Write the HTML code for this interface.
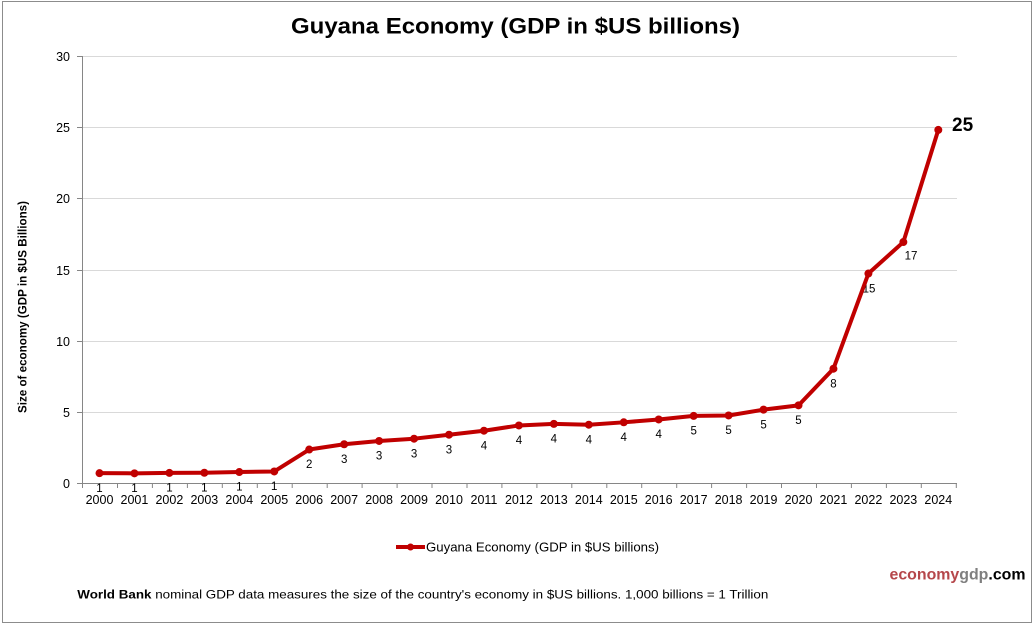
<!DOCTYPE html>
<html>
<head>
<meta charset="utf-8">
<style>
html,body{margin:0;padding:0;background:#fff;}
svg{display:block;}
text{font-family:"Liberation Sans",Arial,sans-serif;}
</style>
</head>
<body>
<svg width="1034" height="624" viewBox="0 0 1034 624" xmlns="http://www.w3.org/2000/svg">
<rect x="0" y="0" width="1034" height="624" fill="#fff"/>
<rect x="2.5" y="1.5" width="1029" height="621" fill="none" stroke="#8c8c8c" stroke-width="1"/>

<!-- Title -->
<text x="291" y="33.5" font-size="22" font-weight="bold" fill="#000" textLength="449" lengthAdjust="spacingAndGlyphs">Guyana Economy (GDP in $US billions)</text>

<!-- Gridlines -->
<g stroke="#d9d9d9" stroke-width="1">
<line x1="82" y1="412.5" x2="957" y2="412.5"/>
<line x1="82" y1="341.5" x2="957" y2="341.5"/>
<line x1="82" y1="270.5" x2="957" y2="270.5"/>
<line x1="82" y1="198.5" x2="957" y2="198.5"/>
<line x1="82" y1="127.5" x2="957" y2="127.5"/>
<line x1="82" y1="56.5" x2="957" y2="56.5"/>
</g>

<!-- Axes -->
<g stroke="#868686" stroke-width="1">
<line x1="82.5" y1="56" x2="82.5" y2="484"/>
<line x1="82" y1="483.5" x2="957" y2="483.5"/>
<line x1="77" y1="483.5" x2="82" y2="483.5"/>
<line x1="77" y1="412.5" x2="82" y2="412.5"/>
<line x1="77" y1="341.5" x2="82" y2="341.5"/>
<line x1="77" y1="270.5" x2="82" y2="270.5"/>
<line x1="77" y1="198.5" x2="82" y2="198.5"/>
<line x1="77" y1="127.5" x2="82" y2="127.5"/>
<line x1="77" y1="56.5" x2="82" y2="56.5"/>
<line x1="82.5" y1="483" x2="82.5" y2="488"/>
<line x1="117.5" y1="483" x2="117.5" y2="488"/>
<line x1="152.4" y1="483" x2="152.4" y2="488"/>
<line x1="187.4" y1="483" x2="187.4" y2="488"/>
<line x1="222.3" y1="483" x2="222.3" y2="488"/>
<line x1="257.3" y1="483" x2="257.3" y2="488"/>
<line x1="292.2" y1="483" x2="292.2" y2="488"/>
<line x1="327.2" y1="483" x2="327.2" y2="488"/>
<line x1="362.1" y1="483" x2="362.1" y2="488"/>
<line x1="397.1" y1="483" x2="397.1" y2="488"/>
<line x1="432" y1="483" x2="432" y2="488"/>
<line x1="467" y1="483" x2="467" y2="488"/>
<line x1="501.9" y1="483" x2="501.9" y2="488"/>
<line x1="536.9" y1="483" x2="536.9" y2="488"/>
<line x1="571.8" y1="483" x2="571.8" y2="488"/>
<line x1="606.8" y1="483" x2="606.8" y2="488"/>
<line x1="641.7" y1="483" x2="641.7" y2="488"/>
<line x1="676.7" y1="483" x2="676.7" y2="488"/>
<line x1="711.6" y1="483" x2="711.6" y2="488"/>
<line x1="746.6" y1="483" x2="746.6" y2="488"/>
<line x1="781.5" y1="483" x2="781.5" y2="488"/>
<line x1="816.5" y1="483" x2="816.5" y2="488"/>
<line x1="851.4" y1="483" x2="851.4" y2="488"/>
<line x1="886.4" y1="483" x2="886.4" y2="488"/>
<line x1="921.3" y1="483" x2="921.3" y2="488"/>
<line x1="956.3" y1="483" x2="956.3" y2="488"/>
</g>

<!-- Y tick labels -->
<g font-size="12.5" fill="#000" text-anchor="end">
<text x="70" y="488">0</text>
<text x="70" y="417">5</text>
<text x="70" y="346">10</text>
<text x="70" y="275">15</text>
<text x="70" y="203">20</text>
<text x="70" y="132">25</text>
<text x="70" y="61">30</text>
</g>

<!-- Y axis title -->
<text transform="translate(26.5,307) rotate(-90)" text-anchor="middle" font-size="11.6" font-weight="bold" fill="#000" textLength="212" lengthAdjust="spacingAndGlyphs">Size of economy (GDP in $US Billions)</text>

<!-- X labels -->
<g font-size="12.5" fill="#000" text-anchor="middle">
<text x="99.5" y="504">2000</text>
<text x="134.45" y="504">2001</text>
<text x="169.4" y="504">2002</text>
<text x="204.35" y="504">2003</text>
<text x="239.3" y="504">2004</text>
<text x="274.25" y="504">2005</text>
<text x="309.2" y="504">2006</text>
<text x="344.15" y="504">2007</text>
<text x="379.1" y="504">2008</text>
<text x="414.05" y="504">2009</text>
<text x="449" y="504">2010</text>
<text x="483.95" y="504">2011</text>
<text x="518.9" y="504">2012</text>
<text x="553.85" y="504">2013</text>
<text x="588.8" y="504">2014</text>
<text x="623.75" y="504">2015</text>
<text x="658.7" y="504">2016</text>
<text x="693.65" y="504">2017</text>
<text x="728.6" y="504">2018</text>
<text x="763.55" y="504">2019</text>
<text x="798.5" y="504">2020</text>
<text x="833.45" y="504">2021</text>
<text x="868.4" y="504">2022</text>
<text x="903.35" y="504">2023</text>
<text x="938.3" y="504">2024</text>
</g>

<!-- Data labels -->
<g font-size="11.5" fill="#000" text-anchor="middle">
<text x="99.5" y="491.9">1</text>
<text x="134.45" y="492">1</text>
<text x="169.4" y="491.6">1</text>
<text x="204.35" y="491.5">1</text>
<text x="239.3" y="490.7">1</text>
<text x="274.25" y="490.2">1</text>
<text x="309.2" y="468.2">2</text>
<text x="344.15" y="463">3</text>
<text x="379.1" y="459.7">3</text>
<text x="414.05" y="457.4">3</text>
<text x="449" y="453.4">3</text>
<text x="483.95" y="449.4">4</text>
<text x="518.9" y="444.2">4</text>
<text x="553.85" y="442.6">4</text>
<text x="588.8" y="443.4">4</text>
<text x="623.75" y="441">4</text>
<text x="658.7" y="438.2">4</text>
<text x="693.65" y="434.6">5</text>
<text x="728.6" y="434.2">5</text>
<text x="763.55" y="428.3">5</text>
<text x="798.5" y="424">5</text>
<text x="833.45" y="387.4">8</text>
<text x="869" y="292.3">15</text>
<text x="911" y="259.5">17</text>
</g>
<text x="952" y="131" font-size="19" font-weight="bold" fill="#000">25</text>

<!-- Series -->
<polyline fill="none" stroke="#c00000" stroke-width="4" stroke-linejoin="round" stroke-linecap="round"
points="99.5,473.18 134.45,473.33 169.4,472.9 204.35,472.76 239.3,472.04 274.25,471.47 309.2,449.53 344.15,444.26 379.1,440.98 414.05,438.7 449,434.71 483.95,430.72 518.9,425.45 553.85,423.88 588.8,424.73 623.75,422.31 658.7,419.46 693.65,415.9 728.6,415.47 763.55,409.63 798.5,405.35 833.45,368.73 868.4,273.54 903.35,242.05 938.3,129.9"/>
<g fill="#c00000">
<circle cx="99.5" cy="473.18" r="4"/>
<circle cx="134.45" cy="473.33" r="4"/>
<circle cx="169.4" cy="472.9" r="4"/>
<circle cx="204.35" cy="472.76" r="4"/>
<circle cx="239.3" cy="472.04" r="4"/>
<circle cx="274.25" cy="471.47" r="4"/>
<circle cx="309.2" cy="449.53" r="4"/>
<circle cx="344.15" cy="444.26" r="4"/>
<circle cx="379.1" cy="440.98" r="4"/>
<circle cx="414.05" cy="438.7" r="4"/>
<circle cx="449" cy="434.71" r="4"/>
<circle cx="483.95" cy="430.72" r="4"/>
<circle cx="518.9" cy="425.45" r="4"/>
<circle cx="553.85" cy="423.88" r="4"/>
<circle cx="588.8" cy="424.73" r="4"/>
<circle cx="623.75" cy="422.31" r="4"/>
<circle cx="658.7" cy="419.46" r="4"/>
<circle cx="693.65" cy="415.9" r="4"/>
<circle cx="728.6" cy="415.47" r="4"/>
<circle cx="763.55" cy="409.63" r="4"/>
<circle cx="798.5" cy="405.35" r="4"/>
<circle cx="833.45" cy="368.73" r="4"/>
<circle cx="868.4" cy="273.54" r="4"/>
<circle cx="903.35" cy="242.05" r="4"/>
<circle cx="938.3" cy="129.9" r="4"/>
</g>

<!-- Legend -->
<line x1="396" y1="547" x2="425" y2="547" stroke="#c00000" stroke-width="4"/>
<circle cx="410.5" cy="547" r="3.5" fill="#c00000"/>
<text x="426" y="551.5" font-size="12.5" fill="#000" textLength="233" lengthAdjust="spacingAndGlyphs">Guyana Economy (GDP in $US billions)</text>

<!-- Brand -->
<text x="889.5" y="579.5" font-size="16" font-weight="bold" textLength="136" lengthAdjust="spacingAndGlyphs"><tspan fill="#b5474b">economy</tspan><tspan fill="#7f7f7f">gdp</tspan><tspan fill="#000">.com</tspan></text>

<!-- Footer -->
<text x="77.3" y="598.3" font-size="12.2" fill="#000" textLength="691" lengthAdjust="spacingAndGlyphs"><tspan font-weight="bold">World Bank</tspan> nominal GDP data  measures the size of the country's economy in $US billions. 1,000 billions = 1 Trillion</text>
</svg>
</body>
</html>
